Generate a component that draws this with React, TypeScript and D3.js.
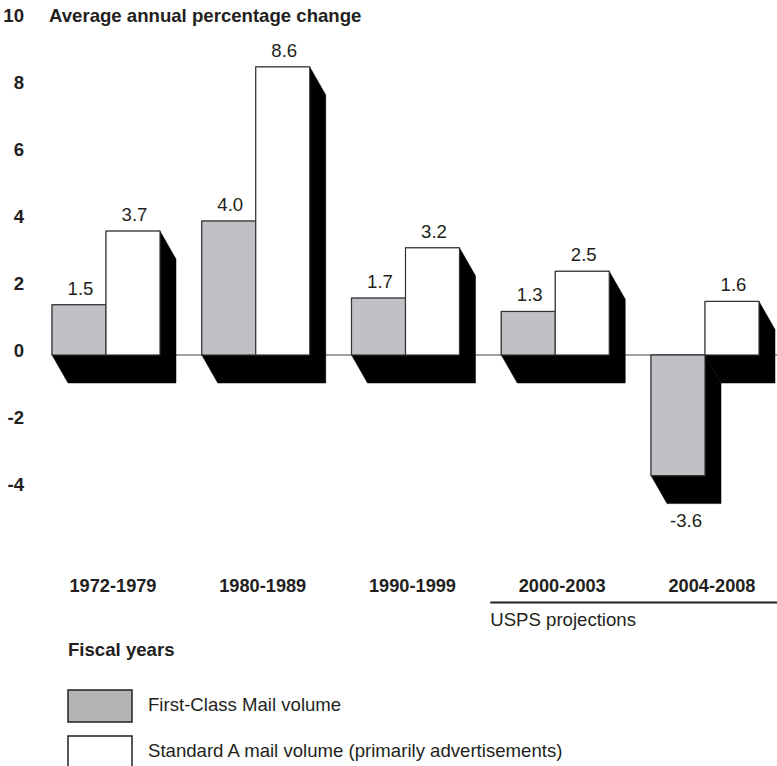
import React from "react";
import * as d3 from "d3";

// Fiscal-year periods and average annual % change in mail volume
const categories = ["1972-1979", "1980-1989", "1990-1999", "2000-2003", "2004-2008"];
const firstClass = [1.5, 4.0, 1.7, 1.3, -3.6];
const standardA = [3.7, 8.6, 3.2, 2.5, 1.6];
const seriesKeys = ["firstClass", "standardA"];
const seriesNames = ["First-Class Mail volume", "Standard A mail volume (primarily advertisements)"];
const yTicks = [10, 8, 6, 4, 2, 0, -2, -4];
const projected = ["2000-2003", "2004-2008"];

const W = 777;
const H = 766;
const FONT = "'Liberation Sans', Arial, Helvetica, sans-serif";
const INK = "#231f20";
const GREY = "#bfc1c7";
const DX = 16; // 3-D extrusion offset
const DY = 28;
const FS = 18.6;

const App = () => {
  const y = d3.scaleLinear().domain([-4, 10]).range([489, 20]);
  const x = d3
    .scaleBand<string>()
    .domain(categories)
    .range([52, 759])
    .paddingInner(0.2788)
    .paddingOuter(0);
  const xs = d3.scaleBand<string>().domain(seriesKeys).range([0, x.bandwidth()]);
  // plain hyphen for negatives, as in the original
  const fmt = d3.formatLocale({ decimal: ".", thousands: ",", grouping: [3], currency: ["$", ""], minus: "-" }).format(".1f");
  const zero = y(0);

  // one record per bar
  const bars = categories.flatMap((c, i) =>
    seriesKeys.map((k) => {
      const v = k === "firstClass" ? firstClass[i] : standardA[i];
      const x0 = (x(c) as number) + (xs(k) as number);
      const x1 = x0 + xs.bandwidth();
      const y0 = Math.min(y(v), zero);
      const y1 = Math.max(y(v), zero);
      return { c, k, v, x0, x1, y0, y1 };
    })
  );

  // silhouette of a bar swept along the extrusion vector
  const shadow = (b) =>
    [
      [b.x0, b.y0],
      [b.x1, b.y0],
      [b.x1 + DX, b.y0 + DY],
      [b.x1 + DX, b.y1 + DY],
      [b.x0 + DX, b.y1 + DY],
      [b.x0, b.y1],
    ]
      .map((p) => p.join(","))
      .join(" ");

  const projX0 = (x(projected[0]) as number) - 11;
  const legendY = [690, 736];

  return (
    <svg
      width={W}
      height={H}
      style={{ position: "absolute", left: 0, top: 0, background: "#fff" }}
      fontFamily={FONT}
    >
      <rect width={W} height={H} fill="#fff" />

      {/* title and y tick labels */}
      <text x={49} y={y(10) - 3} dominantBaseline="middle" fontSize={FS} fontWeight="bold" fill={INK}>
        Average annual percentage change
      </text>
      {yTicks.map((t) => (
        <text
          key={t}
          x={24}
          y={y(t) - 3}
          textAnchor="end"
          dominantBaseline="middle"
          fontSize={FS}
          fontWeight="bold"
          fill={INK}
        >
          {t}
        </text>
      ))}

      {/* zero line */}
      <line x1={52} x2={W} y1={zero} y2={zero} stroke="#444" strokeWidth={1.2} />

      {/* black extrusion behind each group */}
      {bars.map((b) => (
        <polygon key={"s" + b.c + b.k} points={shadow(b)} fill="#000" stroke="#000" strokeWidth={0.5} />
      ))}

      {/* bars */}
      {bars.map((b) => (
        <rect
          key={"b" + b.c + b.k}
          x={b.x0}
          y={b.y0}
          width={b.x1 - b.x0}
          height={b.y1 - b.y0}
          fill={b.k === "firstClass" ? GREY : "#fff"}
          stroke="#333"
          strokeWidth={1.2}
        />
      ))}

      {/* value labels */}
      {bars.map((b) => (
        <text
          key={"v" + b.c + b.k}
          x={(b.x0 + b.x1) / 2 + (b.v < 0 ? DX / 2 : 1.5)}
          y={b.v < 0 ? b.y1 + DY + 18 : b.y0 - 15}
          textAnchor="middle"
          dominantBaseline="middle"
          fontSize={FS}
          fill={INK}
        >
          {fmt(b.v)}
        </text>
      ))}

      {/* category labels */}
      {categories.map((c) => (
        <text
          key={c}
          x={(x(c) as number) + x.bandwidth() / 2 + 7}
          y={587}
          textAnchor="middle"
          dominantBaseline="middle"
          fontSize={18.2}
          fontWeight="bold"
          fill={INK}
        >
          {c}
        </text>
      ))}

      {/* projections bracket */}
      <line x1={projX0} x2={W} y1={602.5} y2={602.5} stroke={INK} strokeWidth={2} />
      <text x={projX0} y={621} dominantBaseline="middle" fontSize={FS} fill={INK}>
        USPS projections
      </text>

      <text x={68} y={651} dominantBaseline="middle" fontSize={FS} fontWeight="bold" fill={INK}>
        Fiscal years
      </text>

      {/* legend */}
      {seriesNames.map((name, i) => (
        <g key={name}>
          <rect
            x={68}
            y={legendY[i]}
            width={64}
            height={32}
            fill={i === 0 ? "#b4b4b4" : "#fff"}
            stroke="#222"
            strokeWidth={1.5}
          />
          <text x={148} y={legendY[i] + 16} dominantBaseline="middle" fontSize={FS} fill={INK}>
            {name}
          </text>
        </g>
      ))}
    </svg>
  );
};

export default App;
